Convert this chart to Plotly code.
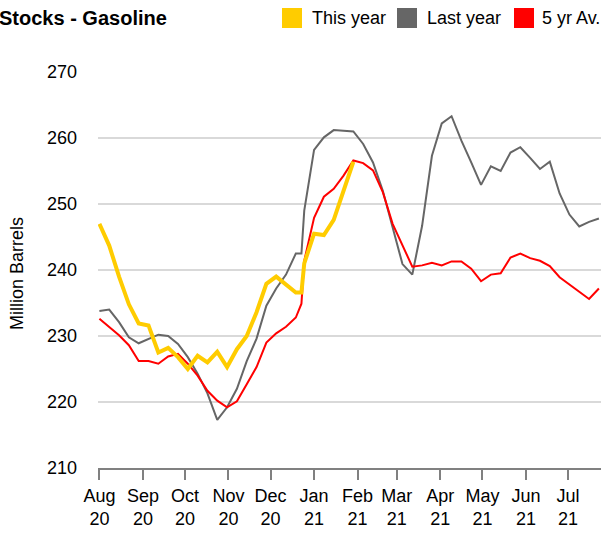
import plotly.graph_objects as go

# ---- data (weekly stocks, million barrels) ----
dates = [
    "2020-08-01", "2020-08-08", "2020-08-15", "2020-08-22", "2020-08-29",
    "2020-09-05", "2020-09-12", "2020-09-19", "2020-09-26", "2020-10-03",
    "2020-10-10", "2020-10-17", "2020-10-24", "2020-10-31", "2020-11-07",
    "2020-11-14", "2020-11-21", "2020-11-28", "2020-12-05", "2020-12-12",
    "2020-12-19", "2020-12-23", "2020-12-25",
    "2021-01-01", "2021-01-08", "2021-01-15", "2021-01-22", "2021-01-29",
    "2021-02-05", "2021-02-12", "2021-02-19", "2021-02-26", "2021-03-05",
    "2021-03-12", "2021-03-19", "2021-03-26", "2021-04-02", "2021-04-09",
    "2021-04-16", "2021-04-23", "2021-04-30", "2021-05-07", "2021-05-14",
    "2021-05-21", "2021-05-28", "2021-06-04", "2021-06-11", "2021-06-18",
    "2021-06-25", "2021-07-02", "2021-07-09", "2021-07-16", "2021-07-23",
]

this_year = [
    247.0, 243.7, 239.0, 234.8, 231.9, 231.6, 227.5, 228.2, 226.8, 225.0,
    227.0, 226.0, 227.6, 225.3, 228.0, 230.0, 233.6, 237.9, 239.0, 237.8,
    236.6, 236.6, 241.0,
    245.5, 245.3, 247.6, 252.0, 256.4,
]

last_year = [
    233.8, 234.0, 232.1, 229.8, 228.9, 229.6, 230.2, 230.0, 228.8, 226.8,
    224.3, 221.3, 217.3, 219.2, 222.0, 226.2, 229.6, 234.6, 237.2, 239.3,
    242.5, 242.5, 249.0,
    258.2, 260.1, 261.2, 261.1, 261.0, 259.1, 256.3, 252.0, 246.5, 240.9,
    239.3, 246.7, 257.3, 262.2, 263.3, 259.6, 256.3, 252.9, 255.7, 255.0,
    257.8, 258.6, 257.0, 255.3, 256.4, 251.6, 248.4, 246.6, 247.3, 247.8,
]

five_yr_avg = [
    232.6, 231.3, 230.1, 228.6, 226.2, 226.2, 225.8, 226.9, 227.3, 225.8,
    224.0, 221.7, 220.2, 219.2, 220.1, 222.7, 225.3, 229.0, 230.4, 231.4,
    232.8, 234.9, 241.4,
    247.9, 251.1, 252.3, 254.3, 256.6, 256.2, 255.1, 251.8, 247.0, 243.7,
    240.5, 240.7, 241.1, 240.7, 241.3, 241.3, 240.2, 238.3, 239.3, 239.5,
    241.9, 242.5, 241.8, 241.4, 240.6, 238.9, 237.8, 236.8, 235.6, 237.2,
]

series_names = ["This year", "Last year", "5 yr Av."]
series_colors = ["#FFCC00", "#666666", "#FF0000"]

y_ticks = [210, 220, 230, 240, 250, 260, 270]
title_text = "Stocks - Gasoline"
y_title = "Million Barrels"

FONT = "Liberation Sans, Arial, sans-serif"

# ---- layout geometry (pixels) ----
W, H = 601, 533
L, R, T, B = 98, 0, 72, 65
PW, PH = W - L - R, H - T - B


def px_x(px):
    return (px - L) / PW


def px_y(py):
    return (H - B - py) / PH


fig = go.Figure()

fig.add_trace(go.Scatter(
    x=dates[:len(last_year)], y=last_year, mode="lines", name=series_names[1],
    line=dict(color=series_colors[1], width=2), showlegend=False))
fig.add_trace(go.Scatter(
    x=dates[:len(five_yr_avg)], y=five_yr_avg, mode="lines", name=series_names[2],
    line=dict(color=series_colors[2], width=2), showlegend=False))
fig.add_trace(go.Scatter(
    x=dates[:len(this_year)], y=this_year, mode="lines", name=series_names[0],
    line=dict(color=series_colors[0], width=4), showlegend=False))

# ---- manual legend (square swatches) ----
sq_left = [282, 397, 514]
txt_left = [310, 425, 540]
shapes = []
annotations = []
for name, col, sx, tx in zip(series_names, series_colors, sq_left, txt_left):
    shapes.append(dict(type="rect", xref="paper", yref="paper",
                       x0=px_x(sx), x1=px_x(sx + 20), y0=px_y(28), y1=px_y(8),
                       fillcolor=col, line=dict(width=0)))
    annotations.append(dict(text=name, xref="paper", yref="paper",
                            x=px_x(tx), y=px_y(18), xanchor="left", yanchor="middle",
                            showarrow=False, font=dict(family=FONT, size=18, color="#000000")))

annotations.append(dict(text=y_title, xref="paper", yref="paper",
                        x=px_x(17), y=px_y(274), xanchor="center", yanchor="middle",
                        textangle=-90, showarrow=False,
                        font=dict(family=FONT, size=18, color="#000000")))
annotations.append(dict(text="<b>" + title_text + "</b>", xref="paper", yref="paper",
                        x=px_x(-3), y=px_y(18), xanchor="left", yanchor="middle",
                        showarrow=False, font=dict(family=FONT, size=20, color="#000000")))

fig.update_layout(
    width=W, height=H,
    margin=dict(l=L, r=R, t=T, b=B, pad=0),
    paper_bgcolor="white", plot_bgcolor="white",
    font=dict(family=FONT, size=18, color="#000000"),
    shapes=shapes, annotations=annotations,
    showlegend=False,
    xaxis=dict(
        type="date",
        range=["2020-07-31", "2021-07-24 12:00"],
        tick0="2020-08-01", dtick="M1",
        tickformat="%b<br>%y",
        ticks="outside", ticklen=10, tickwidth=1.5, tickcolor="#808080",
        showline=True, linecolor="#808080", linewidth=2,
        showgrid=False, zeroline=False,
        tickfont=dict(family=FONT, size=18, color="#000000"),
        fixedrange=True,
    ),
    yaxis=dict(
        range=[210, 270],
        tickvals=y_ticks,
        showgrid=True, gridcolor="#d9d9d9", gridwidth=2,
        showline=False, zeroline=False, ticks="",
        ticklabelstandoff=20,
        tickfont=dict(family=FONT, size=18, color="#000000"),
        fixedrange=True,
    ),
)

fig.write_html(
    "out.html",
    config={"displayModeBar": False},
    post_script="document.body.style.margin='0';document.body.style.padding='0';"
                "document.documentElement.style.overflow='hidden';",
)
